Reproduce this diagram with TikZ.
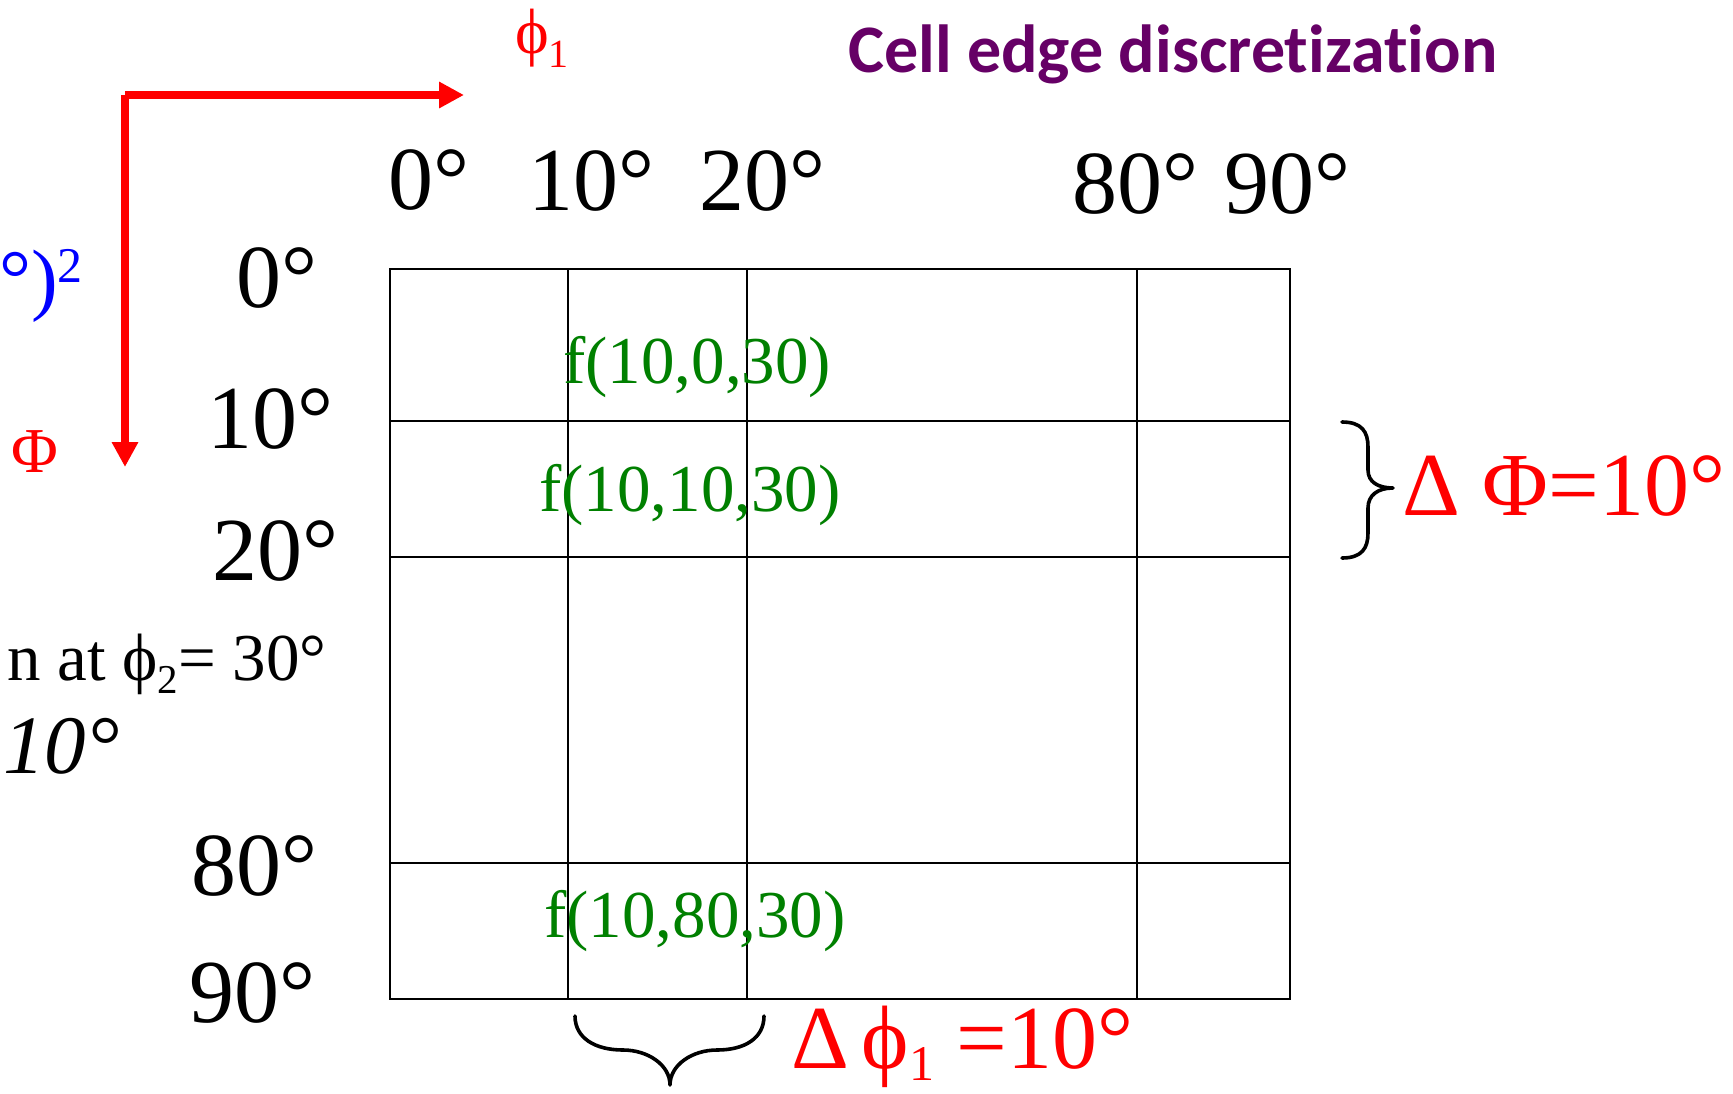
\documentclass[tikz,border=0pt]{standalone}
\usepackage{fontspec}
\setmainfont{Liberation Serif}
\newfontfamily\titlefont{Carlito}[Ligatures=NoCommon]
\usetikzlibrary{arrows.meta}
\definecolor{titlepurple}{RGB}{102,0,102}
\definecolor{fgreen}{RGB}{0,128,0}
\newcommand\fsz[1]{\fontsize{#1}{#1}\selectfont}
\newcommand\lowsub[3]{\raisebox{-#2}{\fsz{#1}#3}}
\begin{document}
\begin{tikzpicture}[x=1pt,y=-1pt,
  gridline/.style={draw=black, line width=2.6pt},
  redarrow/.style={draw=red, line width=8pt, -{Triangle[length=25pt,width=25pt]}},
  bracepath/.style={draw=black, line width=3.6pt, line cap=round, line join=round},
  biglab/.style={inner sep=0pt, anchor=base west, font=\fsz{90}},
  greenlab/.style={inner sep=0pt, anchor=base west, text=fgreen, font=\fsz{67}},
  redlab/.style={inner sep=0pt, anchor=base west, text=red, font=\fsz{90}}]
\useasboundingbox (0,0) rectangle (1733,1093);
\fill[white] (0,0) rectangle (1733,1093);

% grid
\draw[gridline] (390,269) rectangle (1290,999);
\foreach \gx in {568,747,1137} \draw[gridline] (\gx,269) -- (\gx,999);
\foreach \gy in {421,557,863} \draw[gridline] (390,\gy) -- (1290,\gy);

% axes arrows
\coordinate (corner) at (125,95);
\coordinate (xend) at (464,95);
\coordinate (yend) at (125,467);
\draw[redarrow] (corner) -- (xend);
\draw[redarrow] (corner) -- (yend);

% axis labels
\node[inner sep=0pt, anchor=base west, text=red, font=\fsz{64}] (phione) at (515,53) {ϕ\lowsub{40}{14pt}{1}};
\node[inner sep=0pt, anchor=base west, text=red, font=\fsz{64}] (bigphi) at (11,472) {Φ};
\node[inner sep=0pt, anchor=base east, text=blue, font=\fsz{80}] (blue) at (83,305) {°)\raisebox{23pt}{\fsz{50}2}};

% title
\node[inner sep=0pt, anchor=base west, text=titlepurple, font=\titlefont\bfseries\fsz{68}] (title) at (848,72) {Cell edge discretization};

% column labels
\node[biglab] (c0) at (388,209) {0°};
\node[biglab] (c10) at (528,210) {10°};
\node[biglab] (c20) at (699,210) {20°};
\node[biglab] (c80) at (1072,213) {80°};
\node[biglab] (c90) at (1224,213) {90°};

% row labels
\node[biglab] (r0) at (236,307) {0°};
\node[biglab] (r10) at (207,448) {10°};
\node[biglab] (r20) at (212,580) {20°};
\node[biglab] (r80) at (191,895) {80°};
\node[biglab] (r90) at (189,1022) {90°};

% left texts
\node[inner sep=0pt, anchor=base east, font=\fsz{67}] (section) at (327,680) {n at ϕ\lowsub{41}{13pt}{2}= 30°};
\node[inner sep=0pt, anchor=base west, font=\itshape\fsz{83}] (stepsize) at (3,773) {10°};

% green cell values
\node[greenlab] (f1) at (563,383) {f(10,0,30)};
\node[greenlab] (f2) at (539,511) {f(10,10,30)};
\node[greenlab] (f3) at (544,937) {f(10,80,30)};

% braces
\draw[bracepath] (1342,422) .. controls (1362,422) and (1368,432) .. (1368,447) -- (1368,470)
  .. controls (1368,482) and (1378,488) .. (1393,488)
  .. controls (1378,488) and (1368,495) .. (1368,508) -- (1368,533)
  .. controls (1368,548) and (1362,558) .. (1342,558);
\draw[bracepath] (575,1016) .. controls (575,1038) and (595,1050) .. (623,1050)
  .. controls (648,1050) and (670,1065) .. (670,1085)
  .. controls (670,1065) and (692,1050) .. (717,1050)
  .. controls (745,1050) and (764,1038) .. (764,1016);

% delta labels
\node[redlab] (dPhi) at (1402,515) {Δ Φ=10°};
\node[redlab] (dphi1) at (791,1068) {Δ\hspace{0.14em}ϕ\lowsub{50}{12pt}{1} =10°};
\end{tikzpicture}
\end{document}
